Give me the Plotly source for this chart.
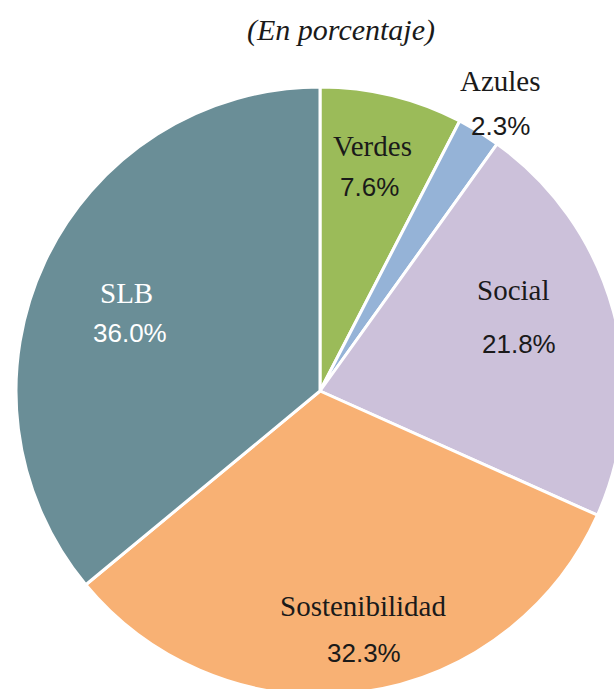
import plotly.graph_objects as go

categories = ["Verdes", "Azules", "Social", "Sostenibilidad", "SLB"]
values = [7.6, 2.3, 21.8, 32.3, 36.0]
colors = ["#9BBB59", "#95B3D7", "#CCC1DA", "#F8B174", "#6A8E97"]
label_colors = ["#1a1a1a", "#1a1a1a", "#1a1a1a", "#1a1a1a", "#FFFFFF"]
title_text = "(En porcentaje)"

# label positions in pixels (name centre, percent centre)
name_pos = [(372, 146), (500, 81), (513, 290), (363, 606), (126, 293)]
pct_pos = [(369, 187), (500, 126), (519, 344), (364, 653), (130, 333)]

W, H = 624, 695
cx, cy, r = 320, 391, 304

def px(x):
    return x / W

def py(y):
    return 1 - y / H

fig = go.Figure(go.Pie(
    labels=categories,
    values=values,
    sort=False,
    direction="clockwise",
    rotation=0,
    marker=dict(colors=colors, line=dict(color="white", width=3)),
    textinfo="none",
    hoverinfo="label+percent",
    showlegend=False,
    domain=dict(x=[px(cx - r), px(cx + r)], y=[py(cy + r), py(cy - r)]),
))

annotations = []
for i, cat in enumerate(categories):
    annotations.append(dict(
        x=px(name_pos[i][0]), y=py(name_pos[i][1]), xref="paper", yref="paper",
        text=cat, showarrow=False, xanchor="center", yanchor="middle",
        font=dict(family="Liberation Serif", size=29, color=label_colors[i]),
    ))
    annotations.append(dict(
        x=px(pct_pos[i][0]), y=py(pct_pos[i][1]), xref="paper", yref="paper",
        text=f"{values[i]:.1f}%", showarrow=False, xanchor="center", yanchor="middle",
        font=dict(family="Liberation Sans", size=26, color=label_colors[i]),
    ))

annotations.append(dict(
    x=px(341), y=py(30), xref="paper", yref="paper",
    text=f"<i>{title_text}</i>", showarrow=False, xanchor="center", yanchor="middle",
    font=dict(family="Liberation Serif", size=30, color="#1a1a1a"),
))

fig.update_layout(
    width=W, height=H,
    margin=dict(l=0, r=0, t=0, b=0),
    paper_bgcolor="white",
    plot_bgcolor="white",
    annotations=annotations,
)

fig.write_html(
    "out.html",
    config={"displayModeBar": False},
    post_script="document.body.style.margin='0';document.body.style.overflow='hidden';document.documentElement.style.overflow='hidden';",
)
